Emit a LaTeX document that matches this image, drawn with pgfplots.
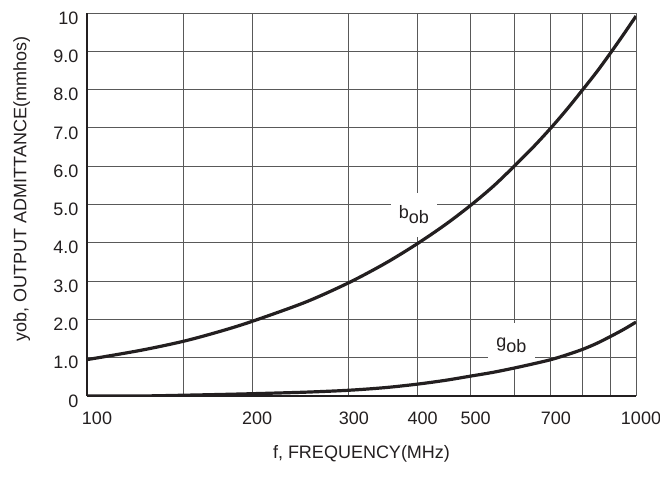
\documentclass[border=0pt]{standalone}
\usepackage{fontspec}
\setmainfont{Liberation Sans}
\usepackage{pgfplots}
\pgfplotsset{compat=1.18}
\definecolor{txt}{HTML}{231F20}

\begin{document}
\begin{tikzpicture}
\begin{axis}[
    set layers,
    xmode=log, log basis x=10,
    scale only axis,
    width=549pt, height=383pt,
    xmin=100, xmax=1000, ymin=0, ymax=10,
    enlargelimits=false,
    axis x line=bottom, axis y line=left,
    axis line style={line width=2.2pt, -, draw=txt},
    xtick={100,150,200,300,400,500,600,700,800,900,1000},
    xticklabels={\hspace{10pt}100,,200,300,400,500,,700,,,1000\hspace{12pt}},
    minor xtick={},
    ytick={0,1,2,3,4,5,6,7,8,9,10},
    yticklabels={0,1.0,2.0,3.0,4.0,5.0,6.0,7.0,8.0,9.0,10},
    major tick length=0pt,
    grid=major,
    major grid style={line width=0.9pt, draw=black!65},
    tick label style={font=\fontsize{18}{20}\selectfont, text=txt},
    xticklabel style={xshift=5pt, yshift=-12pt},
    yticklabel style={xshift=-5pt, yshift=-5pt},
    xlabel={f, FREQUENCY(MHz)},
    ylabel={yob, OUTPUT ADMITTANCE(mmhos)},
    label style={font=\fontsize{18}{20}\selectfont, text=txt},
    xlabel style={at={(axis description cs:0.5,-0.151)}, anchor=center},
    ylabel style={at={(axis description cs:-0.119,0.54)}, anchor=center},
]
    % white gaps in the grid behind the curve labels
    \begin{pgfonlayer}{pre main}
    \node[fill=white, inner sep=0pt, minimum width=46pt, minimum height=44pt, text=txt,
          font=\fontsize{18}{20}\selectfont] at (axis cs:394,4.73) {b\raisebox{-5pt}{ob}};
    \node[fill=white, inner sep=0pt, minimum width=47pt, minimum height=44pt, text=txt,
          font=\fontsize{18}{20}\selectfont] at (axis cs:593,1.32) {g\raisebox{-5pt}{ob}};
    \end{pgfonlayer}

    % b_ob
    \addplot[txt, line width=3.2pt, smooth] coordinates {
        (100,0.95) (125,1.19) (150,1.43) (175,1.69) (200,1.95) (250,2.45)
        (300,2.96) (350,3.47) (400,3.98) (450,4.48) (500,4.98) (550,5.48)
        (600,6.0) (650,6.5) (700,7.0) (750,7.5) (800,8.0) (850,8.48)
        (900,8.97) (950,9.45) (1000,9.92)
    };
    % g_ob
    \addplot[txt, line width=3.2pt, smooth] coordinates {
        (100,0.0) (125,0.0) (150,0.02) (175,0.04) (200,0.06) (250,0.1)
        (300,0.15) (350,0.22) (400,0.31) (450,0.41) (500,0.52) (550,0.62)
        (600,0.73) (650,0.84) (700,0.95) (750,1.08) (800,1.22) (850,1.38)
        (900,1.56) (950,1.74) (1000,1.93)
    };
\end{axis}
\pgfresetboundingbox
\path ([xshift=-87pt,yshift=-85pt]current axis.south west)
    rectangle ([xshift=24pt,yshift=13pt]current axis.north east);
\end{tikzpicture}
\end{document}
